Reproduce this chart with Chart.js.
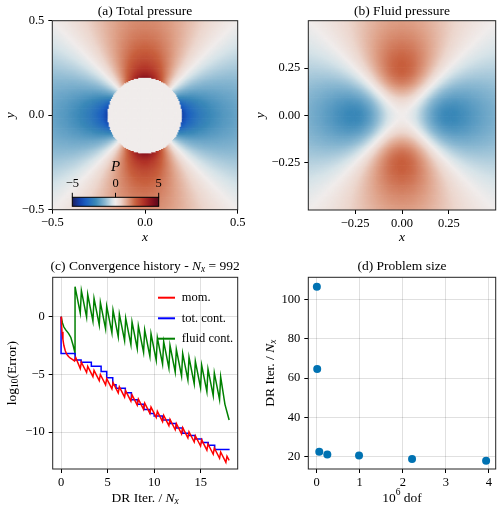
<!DOCTYPE html>
<html><head><meta charset="utf-8">
<script src="https://cdn.jsdelivr.net/npm/chart.js@4.4.1/dist/chart.umd.min.js"></script>
<style>
html,body{margin:0;padding:0;background:#fff;width:500px;height:510px;overflow:hidden}
canvas{position:absolute}
</style></head><body>
<canvas id="ca" width="250" height="252" style="left:0;top:0;width:250px;height:252px"></canvas>
<canvas id="cb" width="250" height="252" style="left:250px;top:0;width:250px;height:252px"></canvas>
<canvas id="cc" width="250" height="258" style="left:0;top:252px;width:250px;height:258px"></canvas>
<canvas id="cd" width="250" height="258" style="left:250px;top:252px;width:250px;height:258px"></canvas>
<script>
// ---------------- data ----------------
const ticksA = [-0.5, 0, 0.5];
const tickLabelsA = ['\u22120.5', '0.0', '0.5'];
const ticksB = [-0.25, 0, 0.25];
const tickLabelsB = ['\u22120.25', '0.00', '0.25'];
const ticksCx = [0, 5, 10, 15];
const tickLabelsCx = ['0', '5', '10', '15'];
const ticksCy = [-10, -5, 0];
const tickLabelsCy = ['\u221210', '\u22125', '0'];
const ticksDx = [0, 1, 2, 3, 4];
const tickLabelsDx = ['0', '1', '2', '3', '4'];
const ticksDy = [20, 40, 60, 80, 100];
const tickLabelsDy = ['20', '40', '60', '80', '100'];
const colorbarTicks = [-5, 0, 5];
const colorbarTickLabels = ['\u22125', '0', '5'];
const colorRange = [-5, 5];

// heat-map fields (parameters)
const inclusionRadius = 0.2;
const inclusionValue = 0.0;
const totalCoef = [3.7, 0.45];     // far-field / near-field amplitude of total pressure around the inclusion
const fluidAmp = 2.3;              // peak fluid pressure amplitude
const fluidPeakR = 0.24;           // radius of fluid pressure lobes
const gridN = 170;

// convergence history
const momX = [0,0.05,0.1,0.2,0.3,0.45,0.6,0.8,1.0,1.25,1.45,1.58,
  2.06,2.18,2.74,2.86,3.42,3.54,4.10,4.22,4.78,4.90,5.46,5.58,6.14,6.26,6.82,6.94,7.50,7.62,8.18,8.30,8.86,8.98,
  9.54,9.66,10.22,10.34,10.90,11.02,11.58,11.70,12.26,12.38,12.94,13.06,13.62,13.74,14.30,14.42,14.98,15.10,
  15.66,15.78,16.34,16.46,17.02,17.14,17.70,17.82,18.05];
const momY = [0,-0.7,-1.3,-2.0,-2.5,-2.95,-3.25,-3.45,-3.6,-3.72,-3.85,-3.55,
  -4.49,-3.95,-4.84,-4.31,-5.20,-4.66,-5.55,-5.01,-5.91,-5.37,-6.26,-5.72,-6.61,-6.08,-6.97,-6.43,-7.32,-6.78,-7.67,-7.14,-8.03,-7.49,
  -8.38,-7.84,-8.73,-8.20,-9.09,-8.55,-9.44,-8.90,-9.80,-9.26,-10.15,-9.61,-10.50,-9.97,-10.86,-10.32,-11.21,-10.67,
  -11.56,-11.03,-11.92,-11.38,-12.27,-11.73,-12.62,-12.09,-12.45];
const totX = [0,1.5,2.15,3.25,4.3,4.9,5.55,5.9,6.9,7.55,8.2,8.9,9.55,10.0,10.9,11.7,12.35,13.05,13.7,14.4,15.1,15.8,16.5,17.2,18.1];
const totY = [0,-3.2,-3.75,-3.95,-4.3,-4.75,-5.3,-5.9,-6.2,-6.6,-7.2,-7.6,-8.05,-8.4,-8.6,-8.95,-9.25,-9.65,-10.1,-10.3,-10.6,-10.9,-11.15,-11.5,-11.5];
const fluidX = [0,0.15,0.3,0.5,0.8,1.05,1.3,1.5,1.5,
  2.06,2.18,2.74,2.86,3.42,3.54,4.10,4.22,4.78,4.90,5.46,5.58,6.14,6.26,6.82,6.94,7.50,7.62,8.18,8.30,8.86,8.98,
  9.54,9.66,10.22,10.34,10.90,11.02,11.58,11.70,12.26,12.38,12.94,13.06,13.62,13.74,14.30,14.42,14.98,15.10,
  15.66,15.78,16.34,16.46,17.02,17.14,17.6,18.05];
const fluidY = [0,-0.55,-0.9,-1.15,-1.45,-1.8,-2.5,-3.17,2.6,
  0.30,2.26,-0.04,1.92,-0.38,1.58,-0.72,1.24,-1.06,0.90,-1.40,0.56,-1.74,0.22,-2.08,-0.12,-2.42,-0.46,-2.76,-0.80,-3.10,-1.14,
  -3.44,-1.48,-3.78,-1.82,-4.12,-2.16,-4.46,-2.50,-4.80,-2.84,-5.14,-3.18,-5.48,-3.52,-5.82,-3.86,-6.16,-4.20,
  -6.50,-4.54,-6.84,-4.88,-7.18,-5.22,-7.6,-8.95];
const legendLabels = ['mom.', 'tot. cont.', 'fluid cont.'];
const seriesColors = ['#ff0000', '#0000ff', '#008000'];

// problem size
const dofMillions = [0.004, 0.012, 0.06, 0.247, 0.984, 2.216, 3.937];
const iterPerNx = [106.4, 64.6, 22.7, 21.2, 20.7, 19.0, 18.1];

// ---------------- helpers ----------------
const FONT = "'Liberation Serif', 'Times New Roman', serif";
const cmapStops = [
  [0.00, [28, 30, 92]], [0.08, [18, 62, 168]], [0.16, [28, 96, 192]], [0.27, [58, 136, 184]],
  [0.38, [140, 185, 210]], [0.46, [214, 227, 232]], [0.50, [240, 236, 235]], [0.56, [236, 214, 205]],
  [0.64, [222, 160, 135]], [0.73, [200, 96, 62]], [0.82, [178, 52, 40]], [0.91, [140, 20, 30]], [1.00, [90, 8, 28]]
];
function cmap(v) {
  let t = (v - colorRange[0]) / (colorRange[1] - colorRange[0]);
  t = Math.max(0, Math.min(1, t));
  for (let i = 1; i < cmapStops.length; i++) {
    if (t <= cmapStops[i][0]) {
      const [t0, c0] = cmapStops[i - 1], [t1, c1] = cmapStops[i];
      const f = (t - t0) / (t1 - t0);
      return 'rgb(' + c0.map((c, k) => Math.round(c + (c1[k] - c) * f)).join(',') + ')';
    }
  }
  return 'rgb(90,8,28)';
}
function totalPressure(x, y) {
  const r = Math.hypot(x, y);
  if (r < inclusionRadius) return inclusionValue;
  const c = (x * x - y * y) / (r * r), q = inclusionRadius / r;
  return -(totalCoef[0] * q ** 0.85 + totalCoef[1] * q ** 6) * c;
}
function fluidPressure(x, y) {
  const r = Math.hypot(x, y);
  if (r === 0) return 0;
  const c = (x * x - y * y) / (r * r), s = (r / fluidPeakR) ** 2;
  return -fluidAmp * 2 * s / (1 + s ** 1.75) * c;
}
const cellCentres = Array.from({length: gridN}, (_, i) => -0.5 + (i + 0.5) / gridN);
function heatData(fn) {
  const pts = [], cols = [];
  for (const y of cellCentres) for (const x of cellCentres) { pts.push({x, y}); cols.push(cmap(fn(x, y))); }
  return {pts, cols};
}
function drawRich(ctx, segs, x, y, size, align, rot) {
  ctx.save();
  ctx.translate(x, y);
  if (rot) ctx.rotate(rot);
  const parts = segs.map(s => {
    const fs = (s.sub || s.sup) ? size * 0.7 : size;
    const font = (s.i ? 'italic ' : '') + fs + 'px ' + FONT;
    ctx.font = font;
    return {t: s.t, font, w: ctx.measureText(s.t).width, dy: s.sub ? size * 0.28 : s.sup ? -size * 0.42 : 0};
  });
  const total = parts.reduce((a, p) => a + p.w, 0);
  let cx = align === 'center' ? -total / 2 : align === 'right' ? -total : 0;
  ctx.textBaseline = 'middle'; ctx.textAlign = 'left'; ctx.fillStyle = '#000';
  for (const p of parts) { ctx.font = p.font; ctx.fillText(p.t, cx, p.dy); cx += p.w; }
  ctx.restore();
}
const decor = {
  id: 'decor',
  afterDatasetsDraw(chart, args, o) {
    const {ctx, chartArea: a} = chart;
    if (o.colorbar) {
      const x0 = a.left + 20, w = 86.4, y0 = a.bottom - 12.4, h = 9;
      const g = ctx.createLinearGradient(x0, 0, x0 + w, 0);
      for (let i = 0; i <= 50; i++) g.addColorStop(i / 50, cmap(colorRange[0] + (colorRange[1] - colorRange[0]) * i / 50));
      ctx.save();
      ctx.fillStyle = g; ctx.fillRect(x0, y0, w, h);
      ctx.strokeStyle = '#000'; ctx.lineWidth = 1; ctx.strokeRect(x0, y0, w, h);
      colorbarTicks.forEach((v, i) => {
        const px = x0 + w * (v - colorRange[0]) / (colorRange[1] - colorRange[0]);
        ctx.beginPath(); ctx.moveTo(px, y0); ctx.lineTo(px, y0 - 4.5); ctx.stroke();
        drawRich(ctx, [{t: colorbarTickLabels[i]}], px, y0 - 13.5, 12.5, 'center');
      });
      drawRich(ctx, [{t: 'P', i: true}], x0 + w / 2, y0 - 30, 15, 'center');
      ctx.restore();
    }
    ctx.save();
    ctx.strokeStyle = '#222'; ctx.lineWidth = 1;
    ctx.strokeRect(a.left, a.top, a.right - a.left, a.bottom - a.top);
    ctx.restore();
    if (o.legend) {
      o.legend.forEach((lab, i) => {
        const y = o.legendY[i];
        ctx.save(); ctx.strokeStyle = seriesColors[i]; ctx.lineWidth = 2;
        ctx.beginPath(); ctx.moveTo(158, y); ctx.lineTo(175, y); ctx.stroke(); ctx.restore();
        drawRich(ctx, [{t: lab}], 181.7, y, 12.5, 'left');
      });
    }
    const cxm = (a.left + a.right) / 2, cym = (a.top + a.bottom) / 2;
    drawRich(ctx, o.title, cxm, o.titleY, 13.5, 'center');
    drawRich(ctx, o.xlabel, cxm, o.xlabelY, 13.5, 'center');
    drawRich(ctx, o.ylabel, o.ylabelX, cym, 13.5, 'center', -Math.PI / 2);
  }
};
function axis(min, max, ticks, labels, size, isX, grid) {
  return {
    type: 'linear', min, max,
    afterBuildTicks: s => { s.ticks = ticks.map(v => ({value: v})); },
    afterFit: s => { if (isX) s.height = size; else s.width = size; },
    ticks: {
      autoSkip: false, maxRotation: 0, color: '#000', padding: isX ? 2 : 4,
      font: {family: FONT, size: 12.5},
      callback: v => { const i = ticks.findIndex(t => Math.abs(t - v) < 1e-9); return i >= 0 ? labels[i] : ''; }
    },
    grid: {drawOnChartArea: grid, color: 'rgba(0,0,0,0.12)', tickColor: '#000', tickLength: 4, lineWidth: 1},
    border: {display: false}
  };
}
function baseOptions(pad, scales, decorOpts) {
  return {
    responsive: false, animation: false, events: [],
    layout: {padding: pad},
    scales,
    plugins: {legend: {display: false}, tooltip: {enabled: false}, decor: decorOpts}
  };
}
function heatDataset(fn) {
  const h = heatData(fn);
  return {type: 'scatter', data: h.pts, pointStyle: 'rect', pointRadius: 1.25, pointHoverRadius: 0,
    pointBorderWidth: 0, pointBackgroundColor: h.cols, clip: 0};
}

// ---------------- panel (a) ----------------
new Chart(document.getElementById('ca'), {
  type: 'scatter',
  data: {datasets: [heatDataset(totalPressure)]},
  options: baseOptions({left: 0, top: 20.7, right: 12.3, bottom: 0}, {
    x: axis(-0.5, 0.5, ticksA, tickLabelsA, 42.3, true, false),
    y: axis(-0.5, 0.5, ticksA, tickLabelsA, 52.3, false, false)
  }, {title: [{t: '(a) Total pressure'}], titleY: 11, xlabel: [{t: 'x', i: true}], xlabelY: 237,
      ylabel: [{t: 'y', i: true}], ylabelX: 10, colorbar: true}),
  plugins: [decor]
});
// ---------------- panel (b) ----------------
new Chart(document.getElementById('cb'), {
  type: 'scatter',
  data: {datasets: [heatDataset(fluidPressure)]},
  options: baseOptions({left: 0, top: 20.7, right: 4.3, bottom: 0}, {
    x: axis(-0.5, 0.5, ticksB, tickLabelsB, 42, true, false),
    y: axis(-0.5, 0.5, ticksB, tickLabelsB, 58.3, false, false)
  }, {title: [{t: '(b) Fluid pressure'}], titleY: 11, xlabel: [{t: 'x', i: true}], xlabelY: 237,
      ylabel: [{t: 'y', i: true}], ylabelX: 10}),
  plugins: [decor]
});
// ---------------- panel (c) ----------------
const zip = (xs, ys) => xs.map((x, i) => ({x, y: ys[i]}));
new Chart(document.getElementById('cc'), {
  type: 'line',
  data: {datasets: [
    {label: legendLabels[0], data: zip(momX, momY), borderColor: seriesColors[0], borderWidth: 1.5, pointRadius: 0, tension: 0},
    {label: legendLabels[1], data: zip(totX, totY), borderColor: seriesColors[1], borderWidth: 1.5, pointRadius: 0, stepped: 'after'},
    {label: legendLabels[2], data: zip(fluidX, fluidY), borderColor: seriesColors[2], borderWidth: 1.5, pointRadius: 0, tension: 0}
  ]},
  options: baseOptions({left: 0, top: 25.3, right: 12.3, bottom: 0}, {
    x: axis(-0.9, 18.97, ticksCx, tickLabelsCx, 41, true, true),
    y: axis(-13.2, 3.41, ticksCy, tickLabelsCy, 52.7, false, true)
  }, {title: [{t: '(c) Convergence history - '}, {t: 'N', i: true}, {t: 'x', i: true, sub: true}, {t: ' = 992'}], titleY: 14,
      xlabel: [{t: 'DR Iter. / '}, {t: 'N', i: true}, {t: 'x', i: true, sub: true}], xlabelY: 246,
      ylabel: [{t: 'log'}, {t: '10', sub: true}, {t: '(Error)'}], ylabelX: 12,
      legend: legendLabels, legendY: [45.7, 66.3, 86.7]}),
  plugins: [decor]
});
// ---------------- panel (d) ----------------
new Chart(document.getElementById('cd'), {
  type: 'scatter',
  data: {datasets: [{data: zip(dofMillions, iterPerNx), pointRadius: 4, pointBackgroundColor: 'rgb(0,114,178)',
    pointBorderWidth: 0, pointHoverRadius: 0}]},
  options: baseOptions({left: 0, top: 25.3, right: 4.3, bottom: 0}, {
    x: axis(-0.195, 4.16, ticksDx, tickLabelsDx, 41, true, true),
    y: axis(13.9, 111.2, ticksDy, tickLabelsDy, 58.3, false, true)
  }, {title: [{t: '(d) Problem size'}], titleY: 14,
      xlabel: [{t: '10'}, {t: '6', sup: true}, {t: ' dof'}], xlabelY: 246,
      ylabel: [{t: 'DR Iter. / '}, {t: 'N', i: true}, {t: 'x', i: true, sub: true}], ylabelX: 20}),
  plugins: [decor]
});
</script>
</body></html>
